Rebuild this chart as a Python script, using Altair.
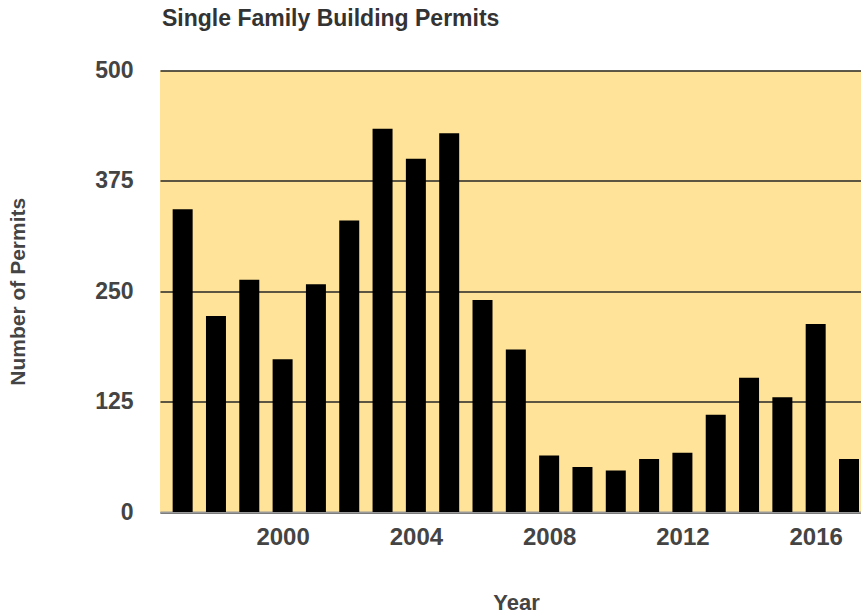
import altair as alt
import pandas as pd

years = list(range(1997, 2018))
permits = [343, 222, 263, 173, 258, 330, 434, 400, 429, 240, 184,
           64, 51, 47, 60, 67, 110, 152, 130, 213, 60]
x_ticks = [2000, 2004, 2008, 2012, 2016]
y_ticks = [0, 125, 250, 375, 500]

df = pd.DataFrame({"Year": years, "Permits": permits})

FONT = "Liberation Sans"

chart = alt.Chart(df).mark_bar(color="#000000", width=20, clip=True).encode(
    x=alt.X(
        "Year:Q",
        scale=alt.Scale(domain=[1996.47, 2017.21], nice=False, zero=False),
        axis=alt.Axis(
            values=x_ticks, format="d", grid=False, ticks=False, tickSize=0,
            domainColor="#9a9a9a", domainWidth=2,
            labelFont=FONT, labelFontSize=24, labelFontWeight="bold",
            labelColor="#444444", labelPadding=13, labelFlush=False, labelOverlap=False,
            title="Year", titleFont=FONT, titleFontSize=22, titleFontWeight="bold",
            titleColor="#444444", titleX=356, titleY=97,
            titleBaseline="alphabetic", titleAlign="center",
        ),
    ),
    y=alt.Y(
        "Permits:Q",
        scale=alt.Scale(domain=[0, 500], nice=False),
        axis=alt.Axis(
            values=y_ticks, domain=False, ticks=False, tickSize=0,
            gridColor="#262626", gridWidth=1.6,
            labelFont=FONT, labelFontSize=23, labelFontWeight="bold",
            labelColor="#444444", labelPadding=27, labelFlush=False,
            title="Number of Permits", titleFont=FONT, titleFontSize=21,
            titleFontWeight="bold", titleColor="#444444",
            titleX=-136, titleY=220.75, titleAngle=-90,
            titleBaseline="alphabetic", titleAlign="center",
        ),
    ),
).properties(
    width=701,
    height=441.5,
    title=alt.TitleParams(
        "Single Family Building Permits", anchor="start", frame="group",
        font=FONT, fontSize=23, fontWeight="bold", color="#333333",
        baseline="alphabetic", offset=11, dx=2,
    ),
    padding={"left": 160, "top": 70.5, "right": 0, "bottom": 102},
    autosize="none",
).configure_view(fill="#FFE398", stroke=None)

chart.save("out.html", embed_options={"renderer": "svg", "actions": False})
